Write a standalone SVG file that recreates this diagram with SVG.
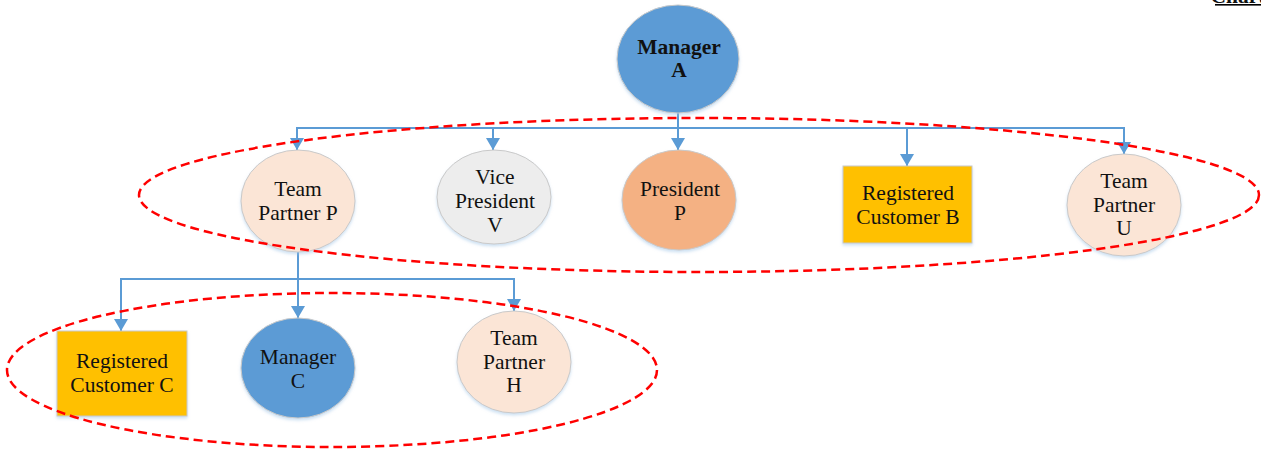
<svg xmlns="http://www.w3.org/2000/svg" width="1261" height="450" viewBox="0 0 1261 450">
  <defs>
    <marker id="arrow" markerUnits="userSpaceOnUse" markerWidth="14" markerHeight="14" refX="12" refY="7" orient="auto">
      <path d="M0,0 L12,7 L0,14 z" fill="#5B9BD5"/>
    </marker>
    <filter id="soft" x="-10%" y="-10%" width="120%" height="125%">
      <feDropShadow dx="0" dy="2" stdDeviation="1.5" flood-color="#9DC3E6" flood-opacity="0.5"/>
    </filter>
  </defs>
  <style>
    .node { stroke: #C9C9C9; stroke-width: 1; filter: url(#soft); }
    .blue { fill: #5B9BD5; }
    .peach { fill: #FBE5D6; }
    .grey { fill: #EDEDED; }
    .orange { fill: #F4B183; }
    .gold { fill: #FFC000; }
    .label { font-family: "Liberation Serif", "Times New Roman", serif; font-size: 21.5px; fill: #111111; text-anchor: middle; }
    .bold { font-weight: bold; }
    .link { fill: none; stroke: #5B9BD5; stroke-width: 2; }
    .group { fill: none; stroke: #FF0000; stroke-width: 2.5; stroke-dasharray: 9 5; }
  </style>

  <rect width="1261" height="450" fill="#FFFFFF"/>

  <!-- page heading, cut by the top edge -->
  <g id="heading">
    <text x="1238" y="3" class="label bold" font-size="18">Chart</text>
    <rect x="1215" y="4" width="46" height="1.6" fill="#000000"/>
  </g>

  <!-- connectors -->
  <g id="connectors">
    <path class="link" d="M297,128 H1124"/>
    <path class="link" d="M678,112 V150" marker-end="url(#arrow)"/>
    <path class="link" d="M297,127 V150" marker-end="url(#arrow)"/>
    <path class="link" d="M493,127 V150" marker-end="url(#arrow)"/>
    <path class="link" d="M907,127 V166" marker-end="url(#arrow)"/>
    <path class="link" d="M1124,127 V154" marker-end="url(#arrow)"/>

    <path class="link" d="M121,279 H514"/>
    <path class="link" d="M298,251 V318" marker-end="url(#arrow)"/>
    <path class="link" d="M121,278 V331" marker-end="url(#arrow)"/>
    <path class="link" d="M514,278 V311" marker-end="url(#arrow)"/>
  </g>

  <g id="manager-a">
    <ellipse class="node blue" cx="678" cy="59" rx="61" ry="54"/>
    <text class="label bold" x="679" y="54">Manager</text>
    <text class="label bold" x="679" y="77">A</text>
  </g>

  <g id="team-partner-p">
    <ellipse class="node peach" cx="298" cy="201" rx="57" ry="51"/>
    <text class="label" x="298" y="196">Team</text>
    <text class="label" x="298" y="220">Partner P</text>
  </g>

  <g id="vice-president-v">
    <ellipse class="node grey" cx="494" cy="197" rx="57" ry="47"/>
    <text class="label" x="495" y="184">Vice</text>
    <text class="label" x="495" y="208">President</text>
    <text class="label" x="495" y="232">V</text>
  </g>

  <g id="president-p">
    <ellipse class="node orange" cx="679" cy="200" rx="57" ry="50"/>
    <text class="label" x="680" y="196">President</text>
    <text class="label" x="680" y="220">P</text>
  </g>

  <g id="registered-customer-b">
    <rect class="node gold" x="843" y="166" width="129" height="77"/>
    <text class="label" x="908" y="200">Registered</text>
    <text class="label" x="908" y="224">Customer B</text>
  </g>

  <g id="team-partner-u">
    <ellipse class="node peach" cx="1124" cy="205" rx="57" ry="51"/>
    <text class="label" x="1124" y="188">Team</text>
    <text class="label" x="1124" y="212">Partner</text>
    <text class="label" x="1124" y="235">U</text>
  </g>

  <g id="registered-customer-c">
    <rect class="node gold" x="57" y="331" width="130" height="85"/>
    <text class="label" x="122" y="368">Registered</text>
    <text class="label" x="122" y="392">Customer C</text>
  </g>

  <g id="manager-c">
    <ellipse class="node blue" cx="298" cy="368" rx="57" ry="50"/>
    <text class="label" x="298" y="364">Manager</text>
    <text class="label" x="298" y="388">C</text>
  </g>

  <g id="team-partner-h">
    <ellipse class="node peach" cx="514" cy="362" rx="57" ry="51"/>
    <text class="label" x="514" y="345">Team</text>
    <text class="label" x="514" y="369">Partner</text>
    <text class="label" x="514" y="392">H</text>
  </g>

  <!-- dashed grouping outlines -->
  <g id="groups">
    <ellipse class="group" cx="699" cy="195" rx="560" ry="77"/>
    <ellipse class="group" cx="332" cy="370" rx="325" ry="77"/>
  </g>
</svg>
